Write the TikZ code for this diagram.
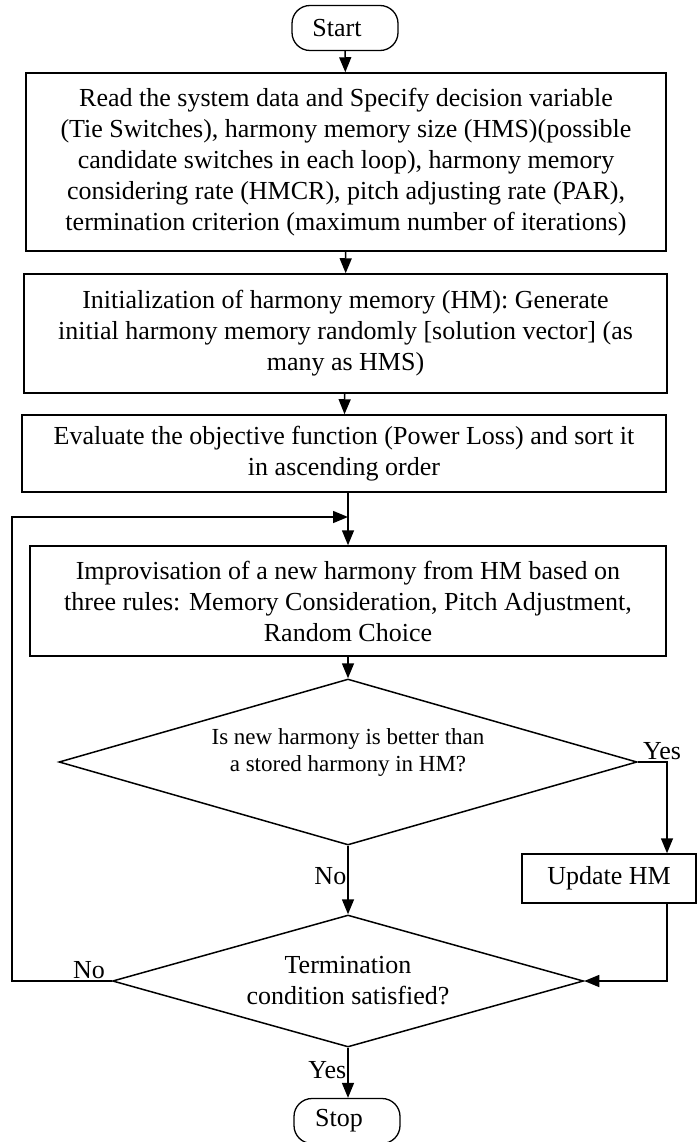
\documentclass[tikz,border=0pt]{standalone}
\usepackage{fontspec}
\setmainfont{Liberation Serif}
\usetikzlibrary{shapes.geometric,arrows.meta}

\tikzset{
  terminal/.style={draw,line width=1.3pt,rounded corners=18pt,minimum width=106pt,minimum height=45pt,inner sep=0pt},
  process/.style={draw,line width=1.5pt,align=center,inner sep=0pt},
  decision/.style={draw,diamond,line width=1.5pt,align=center,inner sep=0pt},
  arr/.style={-{Triangle[length=15pt,width=12pt]},line width=1.5pt},
  lbl/.style={inner sep=2pt}
}

\begin{document}
\begin{tikzpicture}[x=1pt,y=-1pt,font=\fontsize{26}{31}\selectfont]
\clip (0,0) rectangle (697,1142);
\useasboundingbox (0,0) rectangle (697,1142);

 % blocks
 \node[terminal] (start) at (345,28) {Start\kern16pt};
 \node[process,minimum width=640pt,minimum height=178pt] (read) at (346,162)
   {Read the system data and Specify decision variable\\
    (Tie Switches), harmony memory size (HMS)(possible\\
    candidate switches in each loop), harmony memory\\
    considering rate (HMCR), pitch adjusting rate (PAR),\\
    termination criterion (maximum number of iterations)};
 \node[process,minimum width=643pt,minimum height=119pt] (init) at (345.5,333.5)
   {Initialization of harmony memory (HM): Generate\\
    initial harmony memory randomly [solution vector] (as\\
    many as HMS)};
 \node[process,minimum width=644pt,minimum height=77pt] (eval) at (344,453.5)
   {Evaluate the objective function (Power Loss) and sort it\\
    in ascending order};
 \node[process,minimum width=636pt,minimum height=110pt] (impro) at (348,601)
   {Improvisation of a new harmony from HM based on\\
    three rules: Memory Consideration, Pitch Adjustment,\\
    Random Choice};
 \node[decision,aspect=3.48,minimum width=578pt,minimum height=166pt,font=\fontsize{23}{27}\selectfont] (better) at (348,762)
   {Is new harmony is better than\\a stored harmony in HM?\\[-4pt]};
 \node[process,minimum width=174pt,minimum height=49pt] (update) at (609,878.5) {Update HM};
 \node[decision,aspect=3.57,minimum width=471pt,minimum height=132pt] (term) at (348,981)
   {Termination\\condition satisfied?};
 \node[terminal] (stop) at (347,1121) {Stop\kern16pt};

 \coordinate (merge) at (348,517);

 % connectors
 \draw[arr] (start) -- (read);
 \draw[arr] (read) -- (init);
 \draw[arr] (init) -- (eval);
 \draw[arr] (eval.south -| merge) -- (impro.north -| merge);
 \draw[arr] (impro) -- (better);
 \draw[arr] (better.south) -- (term.north) node[lbl,pos=0.45,left,xshift=1pt] {No};
 \draw[arr] (better.east) -| (update.north -| 667,0) node[lbl,pos=0.08,above right,xshift=-2pt] {Yes};
 \draw[arr] (update.south -| 667,0) |- (term.east);
 \draw[arr] (term.west) -| (12,517) -- (merge);
 \draw[arr] (term.south) -- (term.south |- stop.north) node[lbl,pos=0.45,left,xshift=1pt] {Yes};
 \node[lbl,above] (nolbl) at (89,981) {No};
\end{tikzpicture}
\end{document}
